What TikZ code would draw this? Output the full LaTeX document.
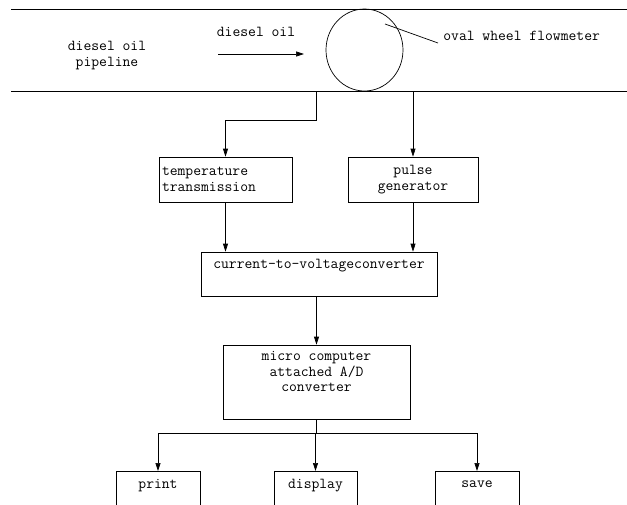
\documentclass[tikz,border=0pt]{standalone}
\usepackage{fontspec}
\usetikzlibrary{arrows.meta,shapes.geometric}

\begin{document}
\begin{tikzpicture}[x=1pt, y=-1pt, line width=0.7pt,
  font=\ttfamily\fontsize{15.2}{15.5}\selectfont,
  block/.style={draw, rectangle, inner sep=3pt},
  tip/.style={-{Triangle[length=8pt,width=5pt]}}]

  \clip (0,0) rectangle (627,504);

  % pipeline and flowmeter
  \draw (11,9) -- (627,9);
  \draw (11,91) -- (627,91);
  \node[draw, ellipse, minimum width=77pt, minimum height=82pt, inner sep=0pt] (meter) at (364.5,50) {};

  \node[align=center] (pipe) at (107,55.5) {diesel oil\\pipeline};
  \node (oil) at (256,32) {diesel oil};
  \coordinate (flowA) at (218,54);
  \coordinate (flowB) at (304,54);
  \draw[tip] (flowA) -- (flowB);

  \node[anchor=west, inner sep=2pt] (name) at (441,36) {oval wheel flowmeter};
  \coordinate (leadA) at (385,24);
  \coordinate (leadB) at (438,43);
  \draw (leadA) -- (leadB);

  % blocks
  \node[block, text width=127pt, align=left, minimum height=45pt] (temp) at (225.5,179.5) {temperature\\transmission};
  \node[block, minimum width=130pt, minimum height=45pt, align=center] (pulse) at (413,179.5) {pulse\\generator};
  \node[block, minimum width=236pt, minimum height=44pt, align=center] (cvc) at (319,274) {current-to-voltageconverter\\\strut};
  \node[block, minimum width=187pt, minimum height=74pt, align=center] (micro) at (316.5,382) {micro computer\\attached A/D\\converter\\\strut};

  \node[block, anchor=north, minimum width=84pt, minimum height=45pt, align=center] (print) at (158,471) {print\\\strut};
  \node[block, anchor=north, minimum width=83pt, minimum height=45pt, align=center] (display) at (315.5,471) {display\\\strut};
  \node[block, anchor=north, minimum width=84pt, minimum height=45pt, align=center] (save) at (477,471) {save\\\strut};

  % signal lines
  \coordinate (tapT) at (316,91);
  \coordinate (tapP) at (413,91);
  \draw[tip] (tapT) -- ++(0,29) -| (temp.north);
  \draw[tip] (tapP) -- (pulse.north);
  \draw[tip] (temp.south) -- (temp.south |- cvc.north);
  \draw[tip] (pulse.south) -- (pulse.south |- cvc.north);
  \draw[tip] (micro.north |- cvc.south) -- (micro.north);

  \coordinate (fork) at ([yshift=-14pt]micro.south);
  \draw (micro.south) -- (fork);
  \draw[tip] (fork) -| (print.north);
  \draw[tip] (fork) -| (display.north);
  \draw[tip] (fork) -| (save.north);
\end{tikzpicture}
\end{document}
